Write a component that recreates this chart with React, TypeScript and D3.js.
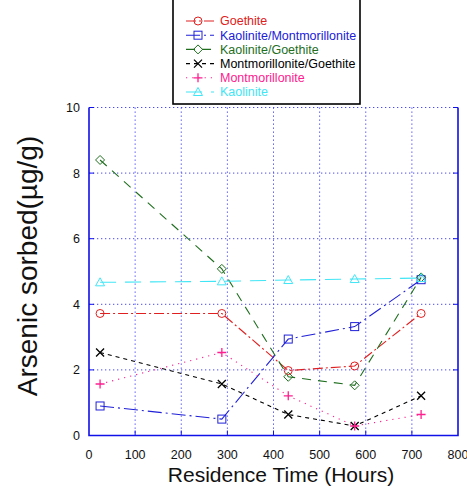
import React from "react";
import * as d3 from "d3";

// residence time (hours)
const hours = [24, 288, 432, 576, 720];

const goethite = [3.72, 3.72, 1.98, 2.12, 3.72];
const kaolMont = [0.9, 0.5, 2.94, 3.32, 4.75];
const kaolGoe = [8.4, 5.08, 1.79, 1.53, 4.82];
const montGoe = [2.53, 1.57, 0.64, 0.29, 1.21];
const mont = [1.57, 2.53, 1.21, 0.29, 0.64];
const kaolinite = [4.67, 4.7, 4.74, 4.77, 4.8];

const xTicks = [0, 100, 200, 300, 400, 500, 600, 700, 800];
const yTicks = [0, 2, 4, 6, 8, 10];

const series = [
  { name: "Goethite", values: goethite, color: "#e02020", dash: "10,3,2,3", marker: "circle" },
  { name: "Kaolinite/Montmorillonite", values: kaolMont, color: "#2020d8", dash: "14,4,2,4", marker: "square" },
  { name: "Kaolinite/Goethite", values: kaolGoe, color: "#1e6e1e", dash: "9,7", marker: "diamond" },
  { name: "Montmorillonite/Goethite", values: montGoe, color: "#000000", dash: "4,4", marker: "x" },
  { name: "Montmorillonite", values: mont, color: "#ff2090", dash: "1.2,5", marker: "plus" },
  { name: "Kaolinite", values: kaolinite, color: "#40e6f6", dash: "16,9", marker: "triangle" },
];

const W = 467;
const H = 489;
const left = 89, right = 458, top = 107.5, bottom = 435.5;

function Marker({ type, x, y, color }: { type: string; x: number; y: number; color: string }) {
  const s = { fill: "none", stroke: color, strokeWidth: 1 };
  switch (type) {
    case "circle":
      return <circle cx={x} cy={y} r={4} {...s} />;
    case "square":
      return <rect x={x - 4} y={y - 4} width={8} height={8} {...s} />;
    case "diamond":
      return <path d={`M${x},${y - 4.5}L${x + 4.5},${y}L${x},${y + 4.5}L${x - 4.5},${y}Z`} {...s} />;
    case "x":
      return <path d={`M${x - 4},${y - 4}L${x + 4},${y + 4}M${x - 4},${y + 4}L${x + 4},${y - 4}`} {...s} strokeWidth={1.3} />;
    case "plus":
      return <path d={`M${x - 4.5},${y}L${x + 4.5},${y}M${x},${y - 4.5}L${x},${y + 4.5}`} {...s} strokeWidth={1.3} />;
    case "triangle":
      return <path d={`M${x},${y - 4.5}L${x + 4.5},${y + 3.5}L${x - 4.5},${y + 3.5}Z`} {...s} />;
  }
  return null;
}

export default function App() {
  const x = d3.scaleLinear().domain([0, 800]).range([left, right]);
  const y = d3.scaleLinear().domain([0, 10]).range([bottom, top]);
  const line = d3.line<number>().x((d, i) => x(hours[i])).y((d) => y(d));
  const axisColor = "#1010e8";
  const gridColor = "#4848f4";

  return (
    <svg width={W} height={H} style={{ position: "absolute", left: 0, top: 0, background: "#fff" }}
      fontFamily="Liberation Sans, Arial, sans-serif">
      {/* grid */}
      {xTicks.slice(1, -1).map((t) => (
        <line key={"gx" + t} x1={x(t)} x2={x(t)} y1={top} y2={bottom} stroke={gridColor} strokeWidth={1} strokeDasharray="1.3,2.7" />
      ))}
      {yTicks.slice(1).map((t) => (
        <line key={"gy" + t} x1={left} x2={right} y1={y(t)} y2={y(t)} stroke={gridColor} strokeWidth={1} strokeDasharray="1.3,2.7" />
      ))}
      {/* frame */}
      <path d={`M${left},${top}V${bottom}H${right}V${top}`} fill="none" stroke={axisColor} strokeWidth={1.6} />
      {/* ticks */}
      {xTicks.slice(1, -1).map((t) => (
        <line key={"tx" + t} x1={x(t)} x2={x(t)} y1={bottom} y2={bottom - 5} stroke={axisColor} strokeWidth={1} />
      ))}
      {yTicks.slice(1).map((t) => (
        <g key={"ty" + t}>
          <line x1={left} x2={left + 5} y1={y(t)} y2={y(t)} stroke={axisColor} strokeWidth={1} />
          <line x1={right - 5} x2={right} y1={y(t)} y2={y(t)} stroke={axisColor} strokeWidth={1} />
        </g>
      ))}
      {/* tick labels */}
      {xTicks.map((t) => (
        <text key={"lx" + t} x={x(t)} y={bottom + 23} textAnchor="middle" fontSize={12.5} fill="#111">{t}</text>
      ))}
      {yTicks.map((t) => (
        <text key={"ly" + t} x={left - 9} y={y(t) + 4.5} textAnchor="end" fontSize={12.5} fill="#111">{t}</text>
      ))}
      {/* axis titles */}
      <text x={281} y={482} textAnchor="middle" fontSize={21} fill="#111">Residence Time (Hours)</text>
      <text transform={`translate(37,266) rotate(-90)`} textAnchor="middle" fontSize={28} fill="#111">Arsenic sorbed(µg/g)</text>
      {/* series */}
      {series.map((s) => (
        <g key={s.name}>
          <path d={line(s.values) ?? ""} fill="none" stroke={s.color} strokeWidth={1.1} strokeDasharray={s.dash} />
          {s.values.map((v, i) => (
            <Marker key={i} type={s.marker} x={x(hours[i])} y={y(v)} color={s.color} />
          ))}
        </g>
      ))}
      {/* legend */}
      <rect x={173} y={-3} width={187} height={107} fill="#fff" stroke="#000" strokeWidth={1.6} />
      {series.map((s, i) => {
        const ly = 21 + i * 14.2;
        return (
          <g key={"leg" + s.name}>
            <line x1={186} x2={214} y1={ly} y2={ly} stroke={s.color} strokeWidth={1.1} strokeDasharray={s.dash} />
            <Marker type={s.marker} x={198} y={ly} color={s.color} />
            <text x={220} y={ly + 4.3} fontSize={12.5} fill={s.color}>{s.name}</text>
          </g>
        );
      })}
    </svg>
  );
}
